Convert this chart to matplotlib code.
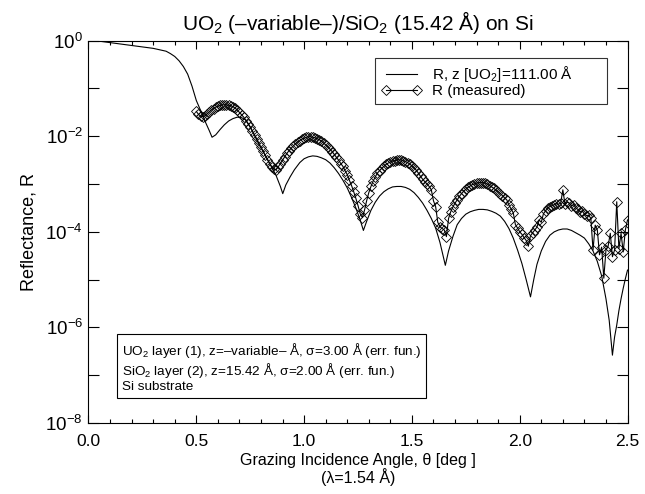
import numpy as np
import matplotlib.pyplot as plt
from matplotlib.ticker import MultipleLocator, FixedLocator, LogFormatterMathtext, NullFormatter

plt.rcParams['font.family'] = ['Liberation Sans', 'DejaVu Sans']
plt.rcParams['mathtext.fontset'] = 'custom'
plt.rcParams['mathtext.rm'] = 'Liberation Sans'
plt.rcParams['mathtext.it'] = 'Liberation Sans:italic'
plt.rcParams['mathtext.bf'] = 'Liberation Sans:bold'

# curva calculada (angulo em graus, log10 da refletancia)
theta_calc = [0.00, 0.05, 0.10, 0.15, 0.20, 0.25, 0.30, 0.33, 0.36, 0.38,
              0.40, 0.42, 0.44, 0.46, 0.48, 0.50, 0.52, 0.54, 0.56, 0.573,
              0.59, 0.61, 0.63, 0.65, 0.67, 0.69, 0.71, 0.73, 0.75, 0.77,
              0.79, 0.81, 0.83, 0.85, 0.87, 0.89, 0.901, 0.915, 0.935, 0.955,
              0.98, 1.00, 1.02, 1.04, 1.06, 1.08, 1.10, 1.12, 1.14, 1.16,
              1.18, 1.20, 1.22, 1.24, 1.26, 1.275, 1.29, 1.31, 1.33, 1.35,
              1.37, 1.39, 1.41, 1.43, 1.45, 1.47, 1.49, 1.51, 1.53, 1.55,
              1.57, 1.59, 1.61, 1.63, 1.655, 1.67, 1.69, 1.71, 1.73, 1.75,
              1.77, 1.79, 1.81, 1.83, 1.85, 1.87, 1.89, 1.91, 1.93, 1.95,
              1.97, 1.99, 2.01, 2.03, 2.05, 2.065, 2.08, 2.10, 2.12, 2.14,
              2.16, 2.18, 2.20, 2.22, 2.24, 2.26, 2.28, 2.30, 2.32, 2.34,
              2.36, 2.38, 2.40, 2.415, 2.43, 2.44, 2.45, 2.46, 2.47, 2.48,
              2.49, 2.50]
logr_calc = [0.00, -0.01, -0.04, -0.07, -0.10, -0.13, -0.16, -0.19, -0.22, -0.27,
             -0.33, -0.42, -0.54, -0.70, -0.95, -1.25, -1.46, -1.68, -1.88, -2.02,
             -1.97, -1.86, -1.76, -1.68, -1.63, -1.60, -1.61, -1.66, -1.80, -1.98,
             -2.17, -2.32, -2.48, -2.65, -2.82, -3.05, -3.20, -3.02, -2.85, -2.70,
             -2.55, -2.47, -2.43, -2.41, -2.42, -2.45, -2.49, -2.56, -2.66, -2.78,
             -2.92, -3.08, -3.28, -3.50, -3.75, -3.97, -3.78, -3.55, -3.38, -3.25,
             -3.16, -3.10, -3.06, -3.05, -3.05, -3.07, -3.11, -3.18, -3.28, -3.40,
             -3.55, -3.72, -3.92, -4.22, -4.70, -4.40, -4.10, -3.85, -3.72, -3.63,
             -3.58, -3.55, -3.53, -3.53, -3.54, -3.57, -3.61, -3.67, -3.78, -3.93,
             -4.13, -4.38, -4.66, -5.00, -5.36, -5.00, -4.68, -4.40, -4.20, -4.07,
             -4.00, -3.96, -3.94, -3.94, -3.97, -4.02, -4.07, -4.13, -4.25, -4.40,
             -4.62, -4.92, -5.40, -5.85, -6.58, -6.20, -5.95, -5.65, -5.40, -5.18,
             -4.98, -4.80]

# dados medidos
theta_meas = [0.50, 0.51, 0.52, 0.53, 0.54, 0.55, 0.56, 0.57, 0.58, 0.59,
              0.60, 0.61, 0.62, 0.63, 0.64, 0.65, 0.66, 0.67, 0.68, 0.69,
              0.70, 0.71, 0.72, 0.73, 0.74, 0.75, 0.76, 0.77, 0.78, 0.79,
              0.80, 0.81, 0.82, 0.83, 0.84, 0.85, 0.86, 0.87, 0.88, 0.89,
              0.90, 0.91, 0.92, 0.93, 0.94, 0.95, 0.96, 0.97, 0.98, 0.99,
              1.00, 1.01, 1.02, 1.03, 1.04, 1.05, 1.06, 1.07, 1.08, 1.09,
              1.10, 1.11, 1.12, 1.13, 1.14, 1.15, 1.16, 1.17, 1.18, 1.19,
              1.20, 1.21, 1.22, 1.23, 1.24, 1.25, 1.26, 1.27, 1.28, 1.29,
              1.30, 1.31, 1.32, 1.33, 1.34, 1.35, 1.36, 1.37, 1.38, 1.39,
              1.40, 1.41, 1.42, 1.43, 1.44, 1.45, 1.46, 1.47, 1.48, 1.49,
              1.50, 1.51, 1.52, 1.53, 1.54, 1.55, 1.56, 1.57, 1.58, 1.59,
              1.60, 1.61, 1.62, 1.63, 1.64, 1.65, 1.66, 1.67, 1.68, 1.69,
              1.70, 1.71, 1.72, 1.73, 1.74, 1.75, 1.76, 1.77, 1.78, 1.79,
              1.80, 1.81, 1.82, 1.83, 1.84, 1.85, 1.86, 1.87, 1.88, 1.89,
              1.90, 1.91, 1.92, 1.93, 1.94, 1.95, 1.96, 1.97, 1.98, 1.99,
              2.00, 2.01, 2.02, 2.03, 2.04, 2.05, 2.06, 2.07, 2.08, 2.09,
              2.10, 2.11, 2.12, 2.13, 2.14, 2.15, 2.16, 2.17, 2.18, 2.19,
              2.20, 2.21, 2.22, 2.23, 2.24, 2.25, 2.26, 2.27, 2.28, 2.29,
              2.30, 2.31, 2.32, 2.33, 2.34, 2.35, 2.36, 2.37, 2.38, 2.39,
              2.40, 2.41, 2.42, 2.43, 2.44, 2.45, 2.46, 2.47, 2.48, 2.49,
              2.50]
logr_meas = [-1.48, -1.54, -1.58, -1.59, -1.57, -1.53, -1.49, -1.45, -1.42, -1.39,
             -1.37, -1.355, -1.345, -1.34, -1.345, -1.35, -1.36, -1.38, -1.41, -1.45,
             -1.50, -1.55, -1.60, -1.67, -1.74, -1.81, -1.89, -1.97, -2.05, -2.14,
             -2.23, -2.31, -2.40, -2.49, -2.57, -2.64, -2.69, -2.70, -2.64, -2.57,
             -2.50, -2.43, -2.36, -2.30, -2.25, -2.20, -2.16, -2.12, -2.09, -2.06,
             -2.04, -2.02, -2.01, -2.01, -2.02, -2.03, -2.05, -2.07, -2.10, -2.14,
             -2.18, -2.22, -2.27, -2.32, -2.38, -2.44, -2.50, -2.57, -2.63, -2.72,
             -2.80, -2.92, -3.03, -3.16, -3.30, -3.45, -3.62, -3.70, -3.55, -3.35,
             -3.18, -3.05, -2.94, -2.85, -2.77, -2.72, -2.67, -2.63, -2.59, -2.56,
             -2.54, -2.52, -2.51, -2.50, -2.49, -2.50, -2.51, -2.53, -2.55, -2.58,
             -2.62, -2.66, -2.71, -2.77, -2.84, -2.90, -2.95, -3.00, -3.05, -3.12,
             -3.35, -3.47, -3.80, -3.89, -3.93, -3.96, -4.10, -3.72, -3.58, -3.48,
             -3.40, -3.33, -3.26, -3.20, -3.15, -3.11, -3.07, -3.04, -3.01, -3.00,
             -2.98, -2.97, -2.97, -2.97, -2.98, -3.00, -3.03, -3.06, -3.09, -3.13,
             -3.16, -3.20, -3.24, -3.29, -3.33, -3.44, -3.52, -3.60, -3.85, -3.92,
             -4.00, -4.05, -4.12, -4.18, -4.30, -4.08, -4.02, -3.96, -3.90, -3.75,
             -3.80, -3.62, -3.56, -3.50, -3.47, -3.45, -3.43, -3.41, -3.42, -3.40,
             -3.12, -3.42, -3.38, -3.40, -3.45, -3.43, -3.50, -3.53, -3.58, -3.56,
             -3.63, -3.66, -3.65, -3.72, -4.38, -3.86, -3.96, -4.48, -4.32, -4.97,
             -4.38, -4.30, -4.03, -4.52, -4.38, -3.37, -4.35, -4.03, -4.42, -3.96,
             -3.75]

r_calc = 10.0 ** np.array(logr_calc)
r_meas = 10.0 ** np.array(logr_meas)

fig = plt.figure(figsize=(6.45, 4.94), dpi=100)
ax = fig.add_axes([0.1372, 0.1437, 0.8357, 0.7739])

ax.plot(theta_calc, r_calc, color='black', lw=0.8, label=r'R, z [UO$_2$]=111.00 Å')
ax.plot(theta_meas, r_meas, color='black', lw=0.8, marker='D', markersize=5,
        markerfacecolor='none', markeredgecolor='black', markeredgewidth=0.6,
        label='R (measured)')

ax.set_yscale('log')
ax.set_xlim(0, 2.5)
ax.set_ylim(1e-8, 1e0)

ax.xaxis.set_major_locator(MultipleLocator(0.5))
ax.xaxis.set_minor_locator(MultipleLocator(0.1))
ax.xaxis.set_major_formatter(plt.FormatStrFormatter('%.1f'))
ax.yaxis.set_major_locator(FixedLocator([1e0, 1e-2, 1e-4, 1e-6, 1e-8]))
ax.yaxis.set_minor_locator(FixedLocator([1e-1, 1e-3, 1e-5, 1e-7]))
ax.yaxis.set_major_formatter(LogFormatterMathtext())
ax.yaxis.set_minor_formatter(NullFormatter())

ax.tick_params(axis='both', which='both', direction='in', top=True, right=True, width=0.8)
ax.tick_params(axis='x', which='major', length=6, pad=8, labelsize=12.5)
ax.tick_params(axis='x', which='minor', length=3)
ax.tick_params(axis='y', which='both', length=8, pad=4, labelsize=13.5)
for s in ax.spines.values():
    s.set_linewidth(0.8)

ax.set_title(r'UO$_2$ (–variable–)/SiO$_2$ (15.42 Å) on Si', fontsize=15, pad=8)
ax.set_xlabel('Grazing Incidence Angle, θ [deg ]\n(λ=1.54 Å)', fontsize=11.5,
              linespacing=1.0, labelpad=3)
ax.set_ylabel('Reflectance, R', fontsize=13, labelpad=6)

leg = ax.legend(loc='upper left', bbox_to_anchor=(0.532, 0.84, 0.43, 0.115), mode='expand',
                fontsize=11, frameon=True, fancybox=False, handlelength=2.6,
                borderpad=0.4, labelspacing=0.0, handletextpad=0.7,
                numpoints=2, borderaxespad=0)
leg.get_frame().set_edgecolor('black')
leg.get_frame().set_linewidth(0.8)

info = ('UO$_2$ layer (1), z=–variable– Å, σ=3.00 Å (err. fun.)\n'
        'SiO$_2$ layer (2), z=15.42 Å, σ=2.00 Å (err. fun.)\n'
        'Si substrate')
ax.text(0.062, 0.078, info, transform=ax.transAxes, fontsize=9.7,
        va='bottom', ha='left', linespacing=1.1,
        bbox=dict(boxstyle='square,pad=0.35', facecolor='white', edgecolor='black', linewidth=0.8))

plt.savefig('out.png', dpi=100)
